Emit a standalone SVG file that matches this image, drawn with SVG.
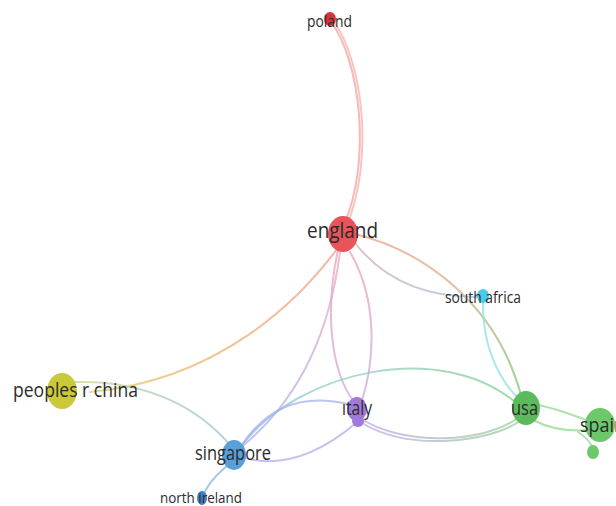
<svg xmlns="http://www.w3.org/2000/svg" width="616" height="506" viewBox="0 0 616 506">
<defs>
<style>
.e{fill:none;stroke-width:2;stroke-linecap:round;opacity:0.75}
.l{font-family:"Open Sans","Liberation Sans",sans-serif;fill:#2b2b2b}
</style>
<linearGradient id="gEC" gradientUnits="userSpaceOnUse" x1="340" y1="245" x2="90" y2="392"><stop offset="0" stop-color="#f29a8a"/><stop offset="0.6" stop-color="#f0b070"/><stop offset="1" stop-color="#d8d060"/></linearGradient>
<linearGradient id="gEU" gradientUnits="userSpaceOnUse" x1="355" y1="234" x2="521" y2="395"><stop offset="0" stop-color="#f09a8a"/><stop offset="0.5" stop-color="#d8b088"/><stop offset="1" stop-color="#78c878"/></linearGradient>
<linearGradient id="gSU" gradientUnits="userSpaceOnUse" x1="242" y1="445" x2="515" y2="402"><stop offset="0" stop-color="#8ab8e8"/><stop offset="0.4" stop-color="#90d0c8"/><stop offset="1" stop-color="#80d090"/></linearGradient>
<linearGradient id="gIU" gradientUnits="userSpaceOnUse" x1="360" y1="420" x2="520" y2="420"><stop offset="0" stop-color="#c0a8e8"/><stop offset="1" stop-color="#98d098"/></linearGradient>
<linearGradient id="gCS" gradientUnits="userSpaceOnUse" x1="75" y1="382" x2="230" y2="445"><stop offset="0" stop-color="#c8d890"/><stop offset="1" stop-color="#98c0e0"/></linearGradient>
<linearGradient id="gES" gradientUnits="userSpaceOnUse" x1="340" y1="252" x2="240" y2="448"><stop offset="0" stop-color="#e8a8c8"/><stop offset="1" stop-color="#a8b0e8"/></linearGradient>
<linearGradient id="gEI" gradientUnits="userSpaceOnUse" x1="340" y1="250" x2="357" y2="402"><stop offset="0" stop-color="#f0a0b0"/><stop offset="1" stop-color="#c8a8e0"/></linearGradient>
<linearGradient id="gESA" gradientUnits="userSpaceOnUse" x1="355" y1="243" x2="480" y2="297"><stop offset="0" stop-color="#d8a8b8"/><stop offset="1" stop-color="#98c8e0"/></linearGradient>
</defs>
<g id="connectors">
<path class="e" d="M331,22 C360,60 372,160 344,225" stroke="#f4a0a0" stroke-width="3.5"/>
<path class="e" d="M334,22 C363,62 374,160 347,225" stroke="#f4b0b0" stroke-width="1.5"/>
<path class="e" d="M340,245 C300,300 220,380 90,392" stroke="url(#gEC)"/>
<path class="e" d="M355,234 C420,250 495,300 521,395" stroke="url(#gEU)" stroke-width="2.5"/>
<path class="e" d="M355,243 C380,275 420,298 480,297" stroke="url(#gESA)"/>
<path class="e" d="M483,300 C482,340 495,375 518,398" stroke="#8ee0e0"/>
<path class="e" d="M338,250 C325,310 330,370 354,402" stroke="url(#gEI)"/>
<path class="e" d="M350,252 C378,300 375,360 362,400" stroke="url(#gEI)"/>
<path class="e" d="M340,252 C330,330 300,400 240,448" stroke="url(#gES)"/>
<path class="e" d="M242,445 C300,370 440,340 515,402" stroke="url(#gSU)"/>
<path class="e" d="M240,448 C270,400 310,395 348,404" stroke="#a8b0ea"/>
<path class="e" d="M245,458 C290,470 330,445 356,423" stroke="#b8a8ec"/>
<path class="e" d="M360,418 C400,445 480,445 518,418" stroke="url(#gIU)"/>
<path class="e" d="M362,423 C410,452 490,442 520,421" stroke="url(#gIU)"/>
<path class="e" d="M75,382 C150,380 200,410 230,445" stroke="url(#gCS)"/>
<path class="e" d="M232,462 C215,475 207,485 203,496" stroke="#88b0e0"/>
<path class="e" d="M538,405 C555,408 572,415 592,422" stroke="#90d890"/>
<path class="e" d="M533,420 C548,428 565,432 590,430" stroke="#90d890"/>
<path class="e" d="M578,432 C586,437 590,442 593,448" stroke="#90d890"/>
</g>
<g id="node-poland"><ellipse cx="330" cy="19" rx="6" ry="7" fill="#d8323c"/><text class="l" x="307" y="27" font-size="16" textLength="45" lengthAdjust="spacingAndGlyphs">poland</text></g>
<g id="node-england"><ellipse cx="343" cy="234" rx="15" ry="18" fill="#e8545a"/><text class="l" x="307" y="238" font-size="22" textLength="71" lengthAdjust="spacingAndGlyphs">england</text></g>
<g id="node-south-africa"><ellipse cx="483" cy="296" rx="6" ry="7" fill="#4ccbe8"/><text class="l" x="445" y="303" font-size="16" textLength="76" lengthAdjust="spacingAndGlyphs">south africa</text></g>
<g id="node-peoples-r-china"><ellipse cx="62" cy="391" rx="15" ry="18" fill="#c9c93a"/><text class="l" x="13" y="397" font-size="20" textLength="125" lengthAdjust="spacingAndGlyphs">peoples r china</text></g>
<g id="node-italy"><ellipse cx="357" cy="409" rx="10" ry="12" fill="#a07ad8"/><ellipse cx="358" cy="421" rx="6" ry="6" fill="#a07ad8"/><text class="l" x="342" y="415" font-size="20" textLength="30" lengthAdjust="spacingAndGlyphs">ıtaly</text></g>
<g id="node-usa"><ellipse cx="526" cy="408" rx="14" ry="17" fill="#5cba5c"/><text class="l" x="511" y="415" font-size="20" textLength="27" lengthAdjust="spacingAndGlyphs">usa</text></g>
<g id="node-spain"><ellipse cx="600" cy="425" rx="15" ry="17" fill="#6cc86a"/><text class="l" x="580" y="432" font-size="20" textLength="45" lengthAdjust="spacingAndGlyphs">spain</text></g>
<g id="node-unlabelled"><ellipse cx="593" cy="452" rx="6" ry="7" fill="#6cc86a"/></g>
<g id="node-singapore"><ellipse cx="234" cy="455" rx="12" ry="15" fill="#5a9fd8"/><text class="l" x="195" y="460" font-size="20" textLength="76" lengthAdjust="spacingAndGlyphs">singapore</text></g>
<g id="node-north-ireland"><ellipse cx="202" cy="498" rx="5" ry="7" fill="#3f80c0"/><text class="l" x="160" y="503" font-size="15" textLength="82" lengthAdjust="spacingAndGlyphs">north ireland</text></g>
</svg>
